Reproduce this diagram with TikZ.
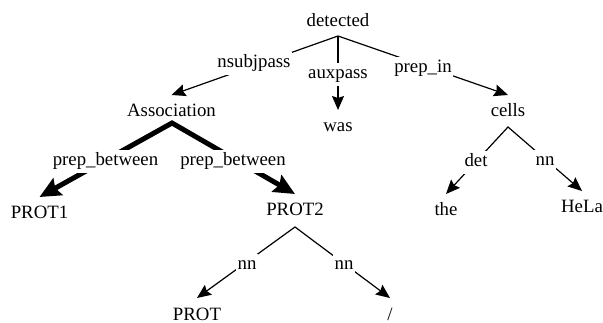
\documentclass[tikz,border=0pt]{standalone}
\usepackage{fontspec}
\setmainfont{Liberation Serif}
\usetikzlibrary{arrows.meta}
\begin{document}
\begin{tikzpicture}[x=1pt,y=-1pt,
  txt/.style={anchor=base, text height=12.8pt, text depth=4pt,
    font=\fontsize{18.8}{20}\selectfont},
  word/.style={txt, inner xsep=0pt, inner ysep=9pt},
  lbl/.style={txt, fill=white, inner xsep=1.5pt, inner ysep=3.5pt},
  thinedge/.style={line width=1.2pt, line join=miter},
  thickedge/.style={line width=5pt, line join=miter},
  tn/.tip={Stealth[length=14pt,width=12pt,inset=2pt]},
  tk/.tip={Stealth[length=21pt,width=19pt,inset=3pt]}
]
\useasboundingbox (0,0) rectangle (603,323);
% words
\node[word] (detected) at (338,27) {detected};
\node[word] (Association) at (171.5,117) {Association};
\node[word] (was) at (338,132) {was};
\node[word] (cells) at (508,117) {cells};
\node[word] (PROT1) at (39.5,219) {PROT1};
\node[word] (PROT2) at (295,216) {PROT2};
\node[word] (the) at (446,216) {the};
\node[word] (HeLa) at (582,213) {HeLa};
\node[word] (PROT) at (197,320) {PROT};
\node[word] (slash) at (390,320) {/};
% branching points
\path (detected.base) ++(0,9) coordinate (dp);
\path (Association.base) ++(0.5,6) coordinate (ap);
\path (cells.base) ++(0,10) coordinate (cp);
\path (PROT2.base) ++(0,11) coordinate (pp);
% connectors
\draw[thinedge, tn-tn] (Association.north) -- (dp) -- (cells.north);
\draw[thinedge, -tn] (dp) -- (was.north);
\draw[thickedge, tk-tk] (PROT1.north) -- (ap) -- (PROT2.north);
\draw[thinedge, tn-tn] (the.north) -- (cp) -- (HeLa.north);
\draw[thinedge, tn-tn] (PROT.north) -- (pp) -- (slash.north);
% labels
\node[lbl] (l-nsubjpass) at (254,68) {nsubjpass};
\node[lbl] (l-auxpass) at (338,79) {auxpass};
\node[lbl] (l-prepin) at (423,73) {prep\_in};
\node[lbl] (l-pb1) at (105.5,166) {prep\_between};
\node[lbl] (l-pb2) at (233,166) {prep\_between};
\node[lbl] (l-det) at (476,167) {det};
\node[lbl] (l-nn1) at (545,166) {nn};
\node[lbl] (l-nn2) at (247,270) {nn};
\node[lbl] (l-nn3) at (344,270) {nn};
\end{tikzpicture}
\end{document}
